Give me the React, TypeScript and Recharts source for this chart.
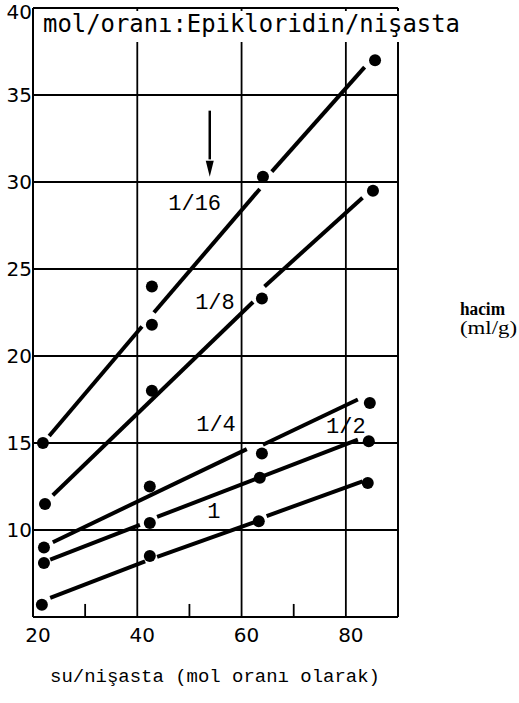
import React from 'react';
import { ComposedChart, Line, Scatter, XAxis, YAxis, CartesianGrid, ReferenceLine } from 'recharts';

const xTicks = [20, 40, 60, 80];
const yTicks = [10, 15, 20, 25, 30, 35, 40];
const minorXTicks = [30, 50, 70];

// measured points (su/nişasta, hacim ml/g)
const pts16 = [{ x: 21.9, y: 15.0 }, { x: 42.8, y: 24.0 }, { x: 42.8, y: 21.8 }, { x: 64.1, y: 30.3 }, { x: 85.6, y: 37.0 }];
const pts8 = [{ x: 22.3, y: 11.5 }, { x: 42.8, y: 18.0 }, { x: 63.9, y: 23.3 }, { x: 85.2, y: 29.5 }];
const pts4 = [{ x: 22.1, y: 9.0 }, { x: 42.4, y: 12.5 }, { x: 63.9, y: 14.4 }, { x: 84.6, y: 17.3 }];
const pts2 = [{ x: 22.1, y: 8.1 }, { x: 42.4, y: 10.4 }, { x: 63.5, y: 13.0 }, { x: 84.4, y: 15.1 }];
const pts1 = [{ x: 21.7, y: 5.7 }, { x: 42.4, y: 8.5 }, { x: 63.3, y: 10.5 }, { x: 84.2, y: 12.7 }];

// fitted line segments (end points)
const fit16 = [
  [{ x: 23.1, y: 15.4 }, { x: 40.9, y: 21.7 }],
  [{ x: 43.2, y: 22.5 }, { x: 63.5, y: 29.6 }],
  [{ x: 65.8, y: 30.6 }, { x: 83.6, y: 36.6 }],
];
const fit8 = [
  [{ x: 23.8, y: 12.0 }, { x: 62.2, y: 23.1 }],
  [{ x: 64.4, y: 24.0 }, { x: 83.2, y: 29.1 }],
];
const fit4 = [
  [{ x: 23.8, y: 9.3 }, { x: 61.0, y: 14.65 }],
  [{ x: 64.1, y: 14.9 }, { x: 82.3, y: 17.5 }],
];
const fit2 = [
  [{ x: 23.3, y: 8.3 }, { x: 40.5, y: 10.3 }],
  [{ x: 43.8, y: 10.75 }, { x: 82.3, y: 15.2 }],
];
const fit1 = [
  [{ x: 23.3, y: 6.1 }, { x: 41.5, y: 8.2 }],
  [{ x: 43.8, y: 8.45 }, { x: 63.0, y: 10.5 }],
  [{ x: 64.8, y: 10.8 }, { x: 83.2, y: 12.8 }],
];

const seriesLabels = [
  { x: 51.0, y: 28.7, text: '1/16' },
  { x: 54.9, y: 23.0, text: '1/8' },
  { x: 55.1, y: 16.0, text: '1/4' },
  { x: 80.0, y: 15.9, text: '1/2' },
  { x: 54.7, y: 11.0, text: '1' },
];

const arrowShaft = [{ x: 53.9, y: 34.1 }, { x: 53.9, y: 31.3 }];
const arrowTip = [{ x: 53.9, y: 30.3 }];

const titleText = 'mol/oranı:Epikloridin/nişasta';
const xLabelText = 'su/nişasta (mol oranı olarak)';
const yLabel1 = 'hacim';
const yLabel2 = '(ml/g)';

const allPoints = [pts16, pts8, pts4, pts2, pts1];
const allFits = [fit16, fit8, fit4, fit2, fit1];

const DotShape = (p: any) => <circle cx={p.cx} cy={p.cy} r={6} fill="#000" />;
const LabelShape = (p: any) => (
  <text
    x={p.cx}
    y={p.cy}
    textAnchor="middle"
    dominantBaseline="central"
    fontFamily="Liberation Mono, monospace"
    fontSize={22}
    fill="#000"
  >
    {p.payload.text}
  </text>
);
const ArrowHead = (p: any) => (
  <polygon points={`${p.cx},${p.cy} ${p.cx - 4},${p.cy - 16} ${p.cx + 4},${p.cy - 16}`} fill="#000" />
);

export default function App() {
  return (
    <div style={{ position: 'absolute', left: 0, top: 0, width: 519, height: 703, background: '#fff' }}>
      <ComposedChart width={519} height={703} margin={{ top: 8, right: 121, left: 0, bottom: 0 }}>
        <CartesianGrid stroke="#000" strokeWidth={1.8} />
        <XAxis
          dataKey="x"
          type="number"
          domain={[20, 90]}
          ticks={xTicks}
          allowDataOverflow
          height={86}
          axisLine={{ stroke: '#000', strokeWidth: 2 }}
          tickLine={false}
          tickSize={0}
          tickMargin={11}
          tick={{ fill: '#000', fontSize: 20, fontFamily: 'DejaVu Sans', dx: 5 }}
        />
        <YAxis
          dataKey="y"
          type="number"
          domain={[5, 40]}
          ticks={yTicks}
          allowDataOverflow
          width={33}
          axisLine={{ stroke: '#000', strokeWidth: 2 }}
          tickLine={false}
          tickSize={0}
          tickMargin={1}
          tick={{ fill: '#000', fontSize: 20, fontFamily: 'DejaVu Sans' }}
        />
        <ReferenceLine x={90} stroke="#000" strokeWidth={1.8} />
        {minorXTicks.map((t) => (
          <ReferenceLine
            key={'m' + t}
            segment={[{ x: t, y: 5 }, { x: t, y: 5.75 }]}
            stroke="#000"
            strokeWidth={1.8}
          />
        ))}
        {allFits.map((fit, i) =>
          fit.map((seg, j) => (
            <Line
              key={`f${i}-${j}`}
              data={seg}
              dataKey="y"
              stroke="#000"
              strokeWidth={4}
              dot={false}
              activeDot={false}
              isAnimationActive={false}
              type="linear"
            />
          ))
        )}
        {allPoints.map((pts, i) => (
          <Scatter key={`p${i}`} data={pts} dataKey="y" shape={DotShape} isAnimationActive={false} />
        ))}
        <Line data={arrowShaft} dataKey="y" stroke="#000" strokeWidth={2.5} dot={false} activeDot={false} isAnimationActive={false} />
        <Scatter data={arrowTip} dataKey="y" shape={ArrowHead} isAnimationActive={false} />
        <Scatter data={seriesLabels} dataKey="y" shape={LabelShape} isAnimationActive={false} />
      </ComposedChart>
      <svg width={519} height={703} style={{ position: 'absolute', left: 0, top: 0, pointerEvents: 'none' }}>
        <rect x={35} y={11} width={430} height={31} fill="#fff" />
        <text x={43} y={32} fontFamily="DejaVu Sans Mono, monospace" fontSize={24} fill="#000" textLength={417} lengthAdjust="spacingAndGlyphs">
          {titleText}
        </text>
        <text x={50} y={682} fontFamily="Liberation Mono, monospace" fontSize={19} fill="#000" textLength={330} lengthAdjust="spacingAndGlyphs">
          {xLabelText}
        </text>
        <text x={460} y={315} fontFamily="Liberation Serif, serif" fontSize={18} fontWeight="bold" fill="#000" textLength={45} lengthAdjust="spacingAndGlyphs">
          {yLabel1}
        </text>
        <text x={460} y={334} fontFamily="Liberation Serif, serif" fontSize={18} fill="#000" textLength={57} lengthAdjust="spacingAndGlyphs">
          {yLabel2}
        </text>
      </svg>
    </div>
  );
}
